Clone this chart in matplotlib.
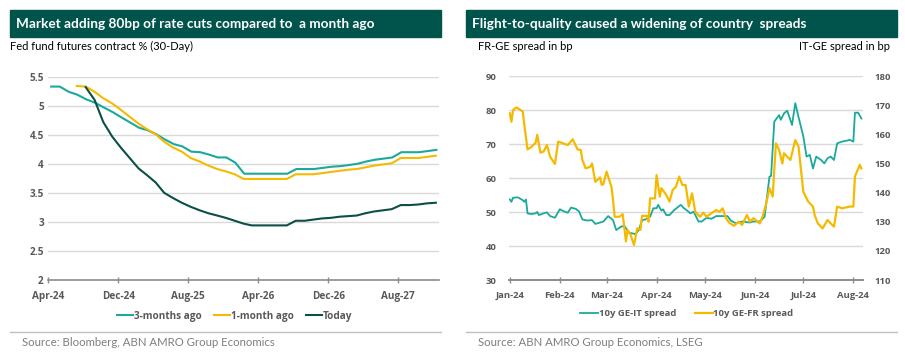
import matplotlib
matplotlib.use("Agg")
import matplotlib.pyplot as plt
import matplotlib.dates as mdates
from matplotlib.patches import Rectangle
from matplotlib.lines import Line2D
import pandas as pd

# ---------------- data: left chart (Fed fund futures, %) ----------------
three_m_start = "2024-04-12"
three_m_ago = [5.33, 5.33, 5.24, 5.19, 5.11, 5.05, 4.97, 4.89, 4.80, 4.71,
               4.62, 4.58, 4.51, 4.42, 4.34, 4.30, 4.21, 4.20, 4.16, 4.11,
               4.11, 4.02, 3.83, 3.83, 3.83, 3.83, 3.83, 3.83, 3.91, 3.91,
               3.91, 3.93, 3.95, 3.96, 3.98, 4.00, 4.04, 4.07, 4.09, 4.11,
               4.20, 4.20, 4.20, 4.22, 4.24]
one_m_start = "2024-07-10"
one_m_ago = [5.34, 5.33, 5.24, 5.13, 5.04, 4.93, 4.81, 4.69, 4.60, 4.51,
             4.38, 4.28, 4.21, 4.10, 4.04, 3.97, 3.91, 3.87, 3.82, 3.74,
             3.74, 3.74, 3.74, 3.74, 3.74, 3.82, 3.82, 3.82, 3.84, 3.86,
             3.88, 3.90, 3.91, 3.94, 3.97, 3.99, 4.01, 4.10, 4.10, 4.10,
             4.12, 4.14]
today_start = "2024-08-10"
today = [5.32, 5.10, 4.72, 4.47, 4.28, 4.10, 3.92, 3.81, 3.68, 3.50,
         3.41, 3.33, 3.26, 3.20, 3.15, 3.11, 3.07, 3.02, 2.97, 2.94,
         2.94, 2.94, 2.94, 2.94, 3.02, 3.02, 3.04, 3.06, 3.07, 3.09,
         3.10, 3.11, 3.15, 3.18, 3.20, 3.22, 3.29, 3.29, 3.30, 3.32,
         3.33]
left_xticks = ["2024-04-01", "2024-12-01", "2025-08-01", "2026-04-01",
               "2026-12-01", "2027-08-01"]
left_yticks = [2, 2.5, 3, 3.5, 4, 4.5, 5, 5.5]

# ---------------- data: right chart (spreads, bp, 2024) ----------------
it_dates = ["01-01", "01-02", "01-03", "01-06", "01-09", "01-10", "01-11", "01-12",
            "01-14", "01-17", "01-18", "01-19", "01-22", "01-24", "01-26", "01-29",
            "02-01", "02-04", "02-06", "02-08", "02-11", "02-13", "02-15", "02-18",
            "02-21", "02-23", "02-26", "02-28",
            "03-02", "03-05", "03-07", "03-10", "03-12", "03-15", "03-19", "03-21",
            "03-23", "03-25", "03-28", "03-30",
            "04-01", "04-02", "04-04", "04-05", "04-07", "04-09", "04-12", "04-16",
            "04-18", "04-20", "04-22", "04-24", "04-27", "04-29",
            "05-02", "05-05", "05-08", "05-15", "05-17", "05-20", "05-24", "05-29",
            "05-31",
            "06-04", "06-07", "06-10", "06-11", "06-13", "06-16", "06-17", "06-19",
            "06-21", "06-24", "06-26", "06-28",
            "07-01", "07-03", "07-05", "07-07", "07-09", "07-12", "07-14", "07-16",
            "07-18", "07-20", "07-22", "07-25", "07-30",
            "08-01", "08-02", "08-04", "08-06"]
it_spread = [53.7, 53.0, 54.2, 54.3, 53.5, 53.0, 53.7, 49.6,
             49.4, 49.6, 50.0, 49.1, 49.6, 49.9, 48.8, 48.3,
             50.8, 50.1, 49.8, 51.3, 50.9, 50.1, 47.8, 47.5,
             47.6, 46.5, 46.9, 47.2,
             48.8, 47.6, 44.7, 45.7, 45.9, 43.9, 43.5, 44.7,
             47.6, 47.8, 48.6, 51.1,
             51.1, 52.1, 50.4, 50.8, 49.1, 49.1, 50.6, 52.1,
             51.1, 50.4, 49.6, 50.1, 47.2, 47.2,
             48.3, 48.0, 48.8, 48.8, 47.5, 46.7, 47.2, 46.9,
             47.2,
             47.2, 48.6, 60.4, 60.6, 76.6, 78.5, 77.1, 79.0,
             79.8, 75.6, 82.0, 78.0,
             72.2, 66.3, 66.8, 62.8, 66.3, 65.3, 64.3, 65.8,
             66.3, 65.3, 70.2, 70.7, 71.2,
             70.7, 79.2, 79.2, 77.5]
fr_dates = ["01-01", "01-02", "01-03", "01-05", "01-07", "01-09", "01-10", "01-12",
            "01-14", "01-17", "01-18", "01-20", "01-22", "01-24", "01-26", "01-29",
            "01-31",
            "02-06", "02-09", "02-12", "02-14", "02-15", "02-17", "02-20", "02-21",
            "02-23", "02-26", "02-27", "02-28",
            "03-01", "03-04", "03-05", "03-06", "03-09", "03-11", "03-13", "03-14",
            "03-16", "03-18", "03-20", "03-22", "03-23", "03-26", "03-27", "03-28",
            "03-31",
            "04-01", "04-03", "04-04", "04-07", "04-09", "04-11", "04-13", "04-15",
            "04-17", "04-19", "04-21", "04-23", "04-25", "04-28", "04-30",
            "05-02", "05-05", "05-08", "05-10", "05-12", "05-14", "05-16", "05-19",
            "05-22", "05-24", "05-27", "05-29", "05-31",
            "06-04", "06-06", "06-08", "06-10", "06-12", "06-14", "06-16", "06-18",
            "06-19", "06-21", "06-23", "06-26", "06-28",
            "07-01", "07-04", "07-07", "07-08", "07-10", "07-13", "07-16", "07-18",
            "07-20", "07-22", "07-25", "07-30",
            "08-01", "08-02", "08-05", "08-06"]
fr_spread = [167.2, 164.3, 168.3, 169.2, 168.6, 167.8, 163.2, 154.8,
             155.5, 157.1, 159.8, 153.7, 154.1, 156.3, 152.3, 149.8,
             157.5,
             156.3, 158.3, 154.8, 154.6, 151.2, 148.3, 148.9, 150.0,
             143.7, 145.2, 142.6, 142.9,
             147.2, 142.0, 137.5, 131.7, 131.7, 132.6, 123.2, 127.2,
             125.4, 122.0, 127.7, 127.2, 132.0, 132.0, 130.0, 138.0,
             138.0,
             146.0, 138.6, 141.5, 139.2, 136.9, 140.9, 142.0, 145.5,
             142.6, 142.6, 135.2, 139.7, 133.4, 131.7, 133.1,
             131.7, 132.9, 134.0, 133.4, 134.6, 131.2, 129.7, 128.6,
             130.0, 128.9, 132.3, 130.0, 131.2,
             129.4, 132.3, 136.3, 141.5, 138.6, 156.9, 154.6, 150.0,
             153.5, 152.3, 151.2, 158.0, 155.8,
             140.3, 136.9, 135.2, 132.3, 129.4, 127.7, 130.6, 129.4,
             128.3, 135.2, 134.6, 135.2,
             135.2, 145.5, 149.5, 148.3]
right_xticks = ["2024-01-01", "2024-02-01", "2024-03-01", "2024-04-01",
                "2024-05-01", "2024-06-01", "2024-07-01", "2024-08-01"]
right_left_ticks = [30, 40, 50, 60, 70, 80, 90]
right_right_ticks = [110, 120, 130, 140, 150, 160, 170, 180]

# ---------------- style ----------------
BAR = "#00544C"
C_TEAL = "#1AA99B"
C_YEL = "#F5BA00"
C_DARK = "#0B4F47"
GRID = "#D9D9D9"
AXIS = "#8C8C8C"
TICKC = "#595959"
TITLE_FONT = ["Lato", "DejaVu Sans"]
TICK_FONT = ["Open Sans", "DejaVu Sans"]

W, H = 905, 357
fig = plt.figure(figsize=(W / 100, H / 100), dpi=100)


def fx(px):
    return px / W


def fy(py):
    return 1 - py / H


# title bars
for x0, x1, txt, tx in [(10, 441, "Market adding 80bp of rate cuts compared to  a month ago", 16),
                        (466, 897, "Flight-to-quality caused a widening of country  spreads", 472)]:
    fig.patches.append(Rectangle((fx(x0), fy(37)), fx(x1 - x0), (37 - 10) / H,
                                 transform=fig.transFigure, color=BAR, zorder=0))
    fig.text(fx(tx), fy(23.5), txt, color="white", fontsize=9.8, fontweight="bold",
             family=TITLE_FONT, va="center", ha="left")
    fig.lines.append(Line2D([fx(x0), fx(x1)], [fy(332), fy(332)], transform=fig.transFigure,
                            color="#BFBFBF", lw=1))

fig.text(fx(10), fy(46), "Fed fund futures contract % (30-Day)", fontsize=8,
         family=TITLE_FONT, va="center", ha="left", color="#000000")
fig.text(fx(478), fy(46), "FR-GE spread in bp", fontsize=8,
         family=TITLE_FONT, va="center", ha="left", color="#000000")
fig.text(fx(890), fy(46), "IT-GE spread in bp", fontsize=8,
         family=TITLE_FONT, va="center", ha="right", color="#000000")
fig.text(fx(22), fy(342), "Source: Bloomberg, ABN AMRO Group Economics", fontsize=8.2,
         family=TITLE_FONT, va="center", ha="left", color="#7F7F7F")
fig.text(fx(478), fy(342), "Source: ABN AMRO Group Economics, LSEG", fontsize=8.2,
         family=TITLE_FONT, va="center", ha="left", color="#7F7F7F")

# ---------------- left chart ----------------
axL = fig.add_axes([fx(48), fy(280), fx(439 - 48), (280 - 76.7) / H])
month = pd.DateOffset(months=1)
d3 = pd.date_range(three_m_start, periods=len(three_m_ago), freq=month)
d1 = pd.date_range(one_m_start, periods=len(one_m_ago), freq=month)
d0 = pd.date_range(today_start, periods=len(today), freq=month)
l3, = axL.plot(d3, three_m_ago, color=C_TEAL, lw=1.5, label="3-months ago")
l1, = axL.plot(d1, one_m_ago, color=C_YEL, lw=1.5, label="1-month ago")
l0, = axL.plot(d0, today, color=C_DARK, lw=1.5, label="Today")
axL.set_xlim(pd.Timestamp("2024-04-01"), pd.Timestamp("2027-12-21"))
axL.set_ylim(2, 5.5)
axL.set_yticks(left_yticks)
axL.set_yticklabels([f"{v:g}" for v in left_yticks])
axL.set_xticks(pd.to_datetime(left_xticks))
axL.xaxis.set_major_formatter(mdates.DateFormatter("%b-%y"))
for v in left_yticks[1:]:
    axL.axhline(v, color=GRID, lw=1, zorder=0)
for s in ["top", "right", "left"]:
    axL.spines[s].set_visible(False)
axL.spines["bottom"].set_color(AXIS)
axL.spines["bottom"].set_linewidth(1.2)
axL.spines["bottom"].set_clip_on(False)
axL.tick_params(axis="y", length=0, pad=3)
axL.tick_params(axis="x", length=4, direction="inout", color=AXIS, width=1, pad=6)
for lab in axL.get_xticklabels() + axL.get_yticklabels():
    lab.set_family(TICK_FONT)
    lab.set_fontsize(7.2)
    lab.set_fontweight("bold")
    lab.set_color(TICKC)
leg = fig.legend(handles=[l3, l1, l0], loc="center", bbox_to_anchor=(fx(235), fy(316)),
                 ncol=3, frameon=False, handlelength=1.6, handletextpad=0.1,
                 columnspacing=1.2, prop={"family": TICK_FONT, "size": 7.2, "weight": "bold"})
for t in leg.get_texts():
    t.set_color(TICKC)

# ---------------- right chart ----------------
axR = fig.add_axes([fx(509), fy(280), fx(863 - 509), (280 - 76) / H])
axR2 = axR.twinx()
it_x = pd.to_datetime(["2024-" + d for d in it_dates])
fr_x = pd.to_datetime(["2024-" + d for d in fr_dates])
li, = axR.plot(it_x, it_spread, color=C_TEAL, lw=1.3, label="10y GE-IT spread")
lf, = axR2.plot(fr_x, fr_spread, color=C_YEL, lw=1.6, label="10y GE-FR spread")
axR.set_xlim(pd.Timestamp("2023-12-31 12:00"), pd.Timestamp("2024-08-07"))
axR.set_ylim(30, 90)
axR2.set_ylim(110, 180)
axR.set_yticks(right_left_ticks)
axR2.set_yticks(right_right_ticks)
axR.set_xticks(pd.to_datetime(right_xticks))
axR.xaxis.set_major_formatter(mdates.DateFormatter("%b-%y"))
for v in right_left_ticks[1:]:
    axR.axhline(v, color=GRID, lw=1, zorder=0)
for a in (axR, axR2):
    for s in ["top", "right", "left"]:
        a.spines[s].set_visible(False)
    a.spines["bottom"].set_color(AXIS)
    a.spines["bottom"].set_linewidth(1.2)
axR.tick_params(axis="y", length=0, pad=9)
axR2.tick_params(axis="y", length=0, pad=8)
axR.tick_params(axis="x", length=4, direction="inout", color=AXIS, width=1, pad=6)
for lab in axR.get_xticklabels() + axR.get_yticklabels() + axR2.get_yticklabels():
    lab.set_family(TICK_FONT)
    lab.set_fontsize(6.8)
    lab.set_fontweight("bold")
    lab.set_color(TICKC)
leg2 = fig.legend(handles=[li, lf], loc="center", bbox_to_anchor=(fx(687), fy(314)),
                  ncol=2, frameon=False, handlelength=1.9, handletextpad=0.1,
                  columnspacing=1.9, prop={"family": TICK_FONT, "size": 6.8, "weight": "bold"})
for t in leg2.get_texts():
    t.set_color(TICKC)

fig.savefig("out.png", dpi=100)
